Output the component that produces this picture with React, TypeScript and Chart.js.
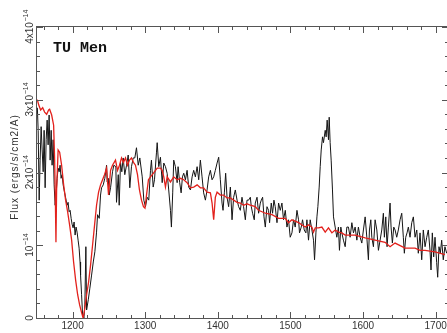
import React, { useEffect, useRef } from 'react';
import { Chart, registerables } from 'chart.js';

Chart.register(...registerables);

// Observed spectrum (wavelength in Angstrom, flux in units of 1e-14 ergs/s/cm2/A)
const obsWave = [
  1151.5, 1152.6, 1154.0, 1155.3, 1156.7, 1158.1, 1159.5, 1160.8, 1162.2, 1163.6, 1165.0, 1166.3, 1167.7, 1169.1, 1170.5, 1171.8,
  1173.2, 1174.6, 1176.0, 1177.3, 1178.7, 1180.1, 1181.5, 1182.8, 1184.2, 1185.6, 1187.0, 1188.3, 1189.7, 1191.1, 1192.5, 1193.8,
  1195.2, 1196.6, 1198.0, 1199.3, 1200.7, 1202.1, 1203.5, 1204.8, 1206.2, 1207.6, 1209.0, 1210.3, 1211.0, 1212.4, 1213.8, 1215.6,
  1216.9, 1218.3, 1219.3, 1221.6, 1223.8, 1226.2, 1228.5, 1230.7, 1233.0, 1234.4, 1236.7, 1238.5, 1239.9, 1242.2, 1244.4, 1246.8,
  1247.7, 1249.1, 1250.5, 1252.3, 1255.0, 1256.8, 1259.6, 1260.5, 1262.9, 1264.2, 1266.0, 1267.8, 1269.7, 1271.9, 1274.3, 1276.6,
  1278.8, 1281.1, 1283.5, 1285.7, 1288.0, 1290.4, 1292.6, 1295.9, 1298.1, 1300.4, 1302.7, 1304.9, 1307.3, 1308.6, 1311.0, 1312.8,
  1315.5, 1316.5, 1318.7, 1321.0, 1323.4, 1325.6, 1327.9, 1330.2, 1332.4, 1334.8, 1336.1, 1337.9, 1339.3, 1341.6, 1344.0, 1345.3,
  1347.5, 1349.5, 1351.3, 1353.1, 1355.4, 1357.7, 1359.9, 1362.3, 1364.6, 1366.8, 1369.1, 1371.5, 1373.7, 1376.0, 1378.3, 1380.5,
  1382.9, 1385.2, 1387.4, 1389.8, 1392.1, 1394.3, 1396.6, 1399.0, 1401.2, 1403.5, 1405.8, 1407.2, 1409.0, 1410.8, 1412.7, 1414.9,
  1417.3, 1419.6, 1421.8, 1424.1, 1426.5, 1428.7, 1431.0, 1433.3, 1435.5, 1437.9, 1440.2, 1442.4, 1444.8, 1446.1, 1447.9, 1450.2,
  1451.6, 1454.0, 1456.2, 1458.5, 1459.9, 1461.7, 1463.6, 1465.4, 1467.7, 1469.9, 1471.3, 1473.6, 1475.4, 1477.3, 1479.1, 1481.5,
  1483.7, 1486.0, 1488.3, 1490.5, 1492.9, 1495.2, 1497.4, 1499.7, 1502.1, 1504.3, 1506.6, 1509.0, 1511.2, 1512.5, 1514.9, 1516.7,
  1519.0, 1521.3, 1522.7, 1524.9, 1527.2, 1529.6, 1531.8, 1533.2, 1535.1, 1536.5, 1537.8, 1539.6, 1541.0, 1542.4, 1544.2, 1545.5,
  1547.9, 1549.2, 1550.6, 1552.4, 1553.4, 1554.7, 1556.1, 1557.9, 1559.3, 1561.6, 1563.9, 1566.1, 1567.5, 1569.4, 1570.8, 1573.0,
  1575.4, 1577.7, 1579.9, 1582.2, 1584.6, 1586.8, 1589.1, 1591.5, 1593.6, 1596.0, 1598.3, 1600.5, 1602.9, 1605.2, 1607.4, 1608.8,
  1610.7, 1612.1, 1614.3, 1616.6, 1619.0, 1621.2, 1623.5, 1625.8, 1628.0, 1629.4, 1631.3, 1633.1, 1634.9, 1637.2, 1638.6, 1640.4,
  1642.3, 1644.1, 1646.4, 1648.6, 1651.0, 1653.3, 1655.5, 1656.9, 1658.8, 1660.6, 1662.4, 1664.7, 1667.1, 1669.3, 1671.6, 1674.0,
  1676.1, 1678.5, 1680.8, 1683.0, 1685.4, 1687.7, 1689.9, 1692.2, 1693.6, 1695.4, 1697.3, 1699.1, 1701.4, 1702.8, 1704.6, 1706.4,
  1708.3, 1710.5, 1712.8, 1715.2,
];
const obsFlux = [
  2.89, 2.58, 1.62, 2.17, 2.63, 2.31, 2.01, 2.58, 1.79, 2.45, 2.72, 2.38, 2.79, 2.17, 2.58, 2.10,
  2.45, 1.83, 1.55, 1.69, 1.92, 2.06, 2.01, 2.10, 1.92, 1.97, 1.83, 1.76, 1.69, 1.62, 1.55, 1.59,
  1.46, 1.48, 1.37, 1.29, 1.24, 1.32, 1.14, 1.25, 1.18, 1.07, 0.96, 0.77, 0.59, 0.32, 0.04, 0.00,
  0.18, 0.98, 0.11, 0.25, 0.41, 0.59, 0.77, 0.91, 1.18, 1.42, 1.37, 1.69, 1.79, 1.83, 1.92, 2.10,
  1.87, 1.92, 1.69, 1.79, 2.01, 2.10, 2.08, 1.59, 1.97, 1.55, 2.14, 2.01, 2.20, 1.97, 2.10, 2.24,
  1.79, 2.08, 2.20, 2.20, 2.34, 2.10, 2.20, 1.94, 1.62, 1.53, 1.66, 1.62, 2.03, 2.17, 1.80, 1.90,
  2.27, 2.41, 2.08, 2.21, 1.86, 2.13, 2.08, 1.99, 1.76, 1.48, 1.25, 1.72, 2.17, 2.08, 1.86, 2.08,
  1.86, 1.72, 1.94, 1.99, 1.90, 2.03, 1.80, 1.76, 1.94, 2.03, 1.94, 2.08, 1.90, 2.17, 1.94, 1.72,
  1.62, 1.76, 1.94, 2.03, 1.90, 1.94, 2.03, 2.13, 2.21, 1.90, 1.58, 1.48, 1.72, 1.99, 1.66, 1.53,
  1.80, 1.35, 1.66, 1.76, 1.62, 1.53, 1.48, 1.66, 1.53, 1.35, 1.62, 1.62, 1.66, 1.53, 1.44, 1.35,
  1.58, 1.66, 1.44, 1.58, 1.62, 1.66, 1.39, 1.25, 1.53, 1.48, 1.31, 1.58, 1.44, 1.62, 1.53, 1.31,
  1.58, 1.48, 1.58, 1.35, 1.48, 1.25, 1.35, 1.11, 1.17, 1.35, 1.25, 1.48, 1.35, 1.17, 1.25, 1.35,
  1.21, 1.17, 1.35, 1.07, 1.35, 1.21, 1.07, 0.80, 1.17, 1.39, 1.53, 1.80, 2.08, 2.31, 2.49, 2.41,
  2.58, 2.49, 2.72, 2.45, 2.76, 2.41, 2.17, 1.76, 1.39, 1.25, 1.11, 1.25, 0.93, 1.25, 1.17, 1.07,
  0.98, 1.25, 1.25, 1.11, 1.31, 1.17, 1.25, 1.07, 1.25, 1.11, 1.03, 1.21, 1.39, 1.11, 0.80, 1.21,
  1.35, 1.11, 0.98, 1.35, 1.21, 0.93, 1.07, 1.21, 1.44, 1.11, 1.39, 0.98, 1.25, 1.58, 1.25, 1.03,
  1.25, 1.21, 1.11, 1.21, 1.35, 1.44, 1.11, 0.89, 1.11, 1.17, 1.25, 1.11, 1.31, 1.39, 1.11, 1.21,
  0.89, 1.17, 0.80, 1.21, 0.98, 1.11, 1.21, 0.93, 0.66, 1.17, 0.84, 1.11, 0.76, 0.56, 0.98, 0.89,
  1.07, 0.80, 0.98, 0.89,
];

// Model spectrum
const modelWave = [
  1151.5, 1153.3, 1156.0, 1158.8, 1161.5, 1164.3, 1167.0, 1168.4, 1171.2, 1173.9, 1175.3, 1176.4, 1177.1, 1178.0, 1180.1, 1182.2,
  1184.9, 1187.7, 1190.4, 1193.2, 1195.9, 1198.7, 1201.4, 1204.2, 1207.0, 1209.7, 1212.5, 1214.5, 1216.5, 1219.3, 1222.0, 1224.8,
  1227.5, 1230.3, 1233.0, 1235.8, 1238.5, 1241.3, 1244.0, 1246.8, 1249.5, 1252.3, 1255.0, 1259.1, 1261.9, 1264.6, 1267.4, 1270.1,
  1272.9, 1275.6, 1278.4, 1281.1, 1283.9, 1286.6, 1289.4, 1292.1, 1294.9, 1297.6, 1299.7, 1301.8, 1304.5, 1307.3, 1311.4, 1316.5,
  1321.0, 1323.4, 1325.6, 1327.9, 1330.2, 1334.8, 1339.3, 1344.0, 1348.5, 1353.1, 1357.7, 1362.3, 1366.8, 1371.5, 1376.0, 1380.5,
  1385.2, 1389.8, 1392.1, 1394.3, 1396.6, 1399.0, 1403.5, 1408.0, 1412.7, 1417.3, 1421.8, 1426.5, 1431.0, 1435.5, 1440.2, 1444.8,
  1451.6, 1456.2, 1465.4, 1474.6, 1483.7, 1492.9, 1497.4, 1502.1, 1511.2, 1520.4, 1524.9, 1529.6, 1531.8, 1534.2, 1538.7, 1543.3,
  1547.9, 1552.4, 1557.1, 1561.6, 1566.1, 1570.8, 1575.4, 1589.1, 1602.9, 1616.6, 1630.4, 1637.2, 1644.1, 1657.9, 1671.6, 1678.5,
  1685.4, 1699.1, 1712.8,
];
const modelFlux = [
  3.00, 2.93, 2.86, 2.89, 2.83, 2.80, 2.86, 2.87, 2.79, 2.65, 2.17, 1.55, 1.04, 1.76, 2.31, 2.28,
  2.10, 1.83, 1.62, 1.46, 1.28, 1.07, 0.77, 0.52, 0.32, 0.18, 0.07, 0.00, 0.11, 0.32, 0.49, 0.73,
  1.00, 1.28, 1.55, 1.73, 1.83, 1.90, 1.97, 2.06, 1.69, 2.03, 2.10, 2.17, 2.03, 2.10, 2.20, 2.14,
  2.20, 2.10, 2.17, 2.20, 2.14, 2.10, 1.97, 1.76, 1.62, 1.53, 1.51, 1.69, 1.90, 1.94, 1.99, 2.06,
  2.06, 2.03, 1.94, 1.80, 1.94, 1.87, 1.94, 1.90, 1.92, 1.90, 1.86, 1.79, 1.80, 1.83, 1.79, 1.79,
  1.73, 1.72, 1.58, 1.35, 1.66, 1.73, 1.69, 1.69, 1.65, 1.65, 1.62, 1.59, 1.58, 1.55, 1.57, 1.55,
  1.53, 1.48, 1.44, 1.42, 1.37, 1.37, 1.31, 1.35, 1.31, 1.25, 1.28, 1.25, 1.18, 1.24, 1.24, 1.25,
  1.18, 1.24, 1.17, 1.21, 1.18, 1.17, 1.14, 1.14, 1.10, 1.07, 1.04, 0.98, 1.03, 0.96, 0.96, 0.93,
  0.93, 0.91, 0.87,
];

const xMajorTicks = [1200, 1300, 1400, 1500, 1600, 1700];
const yMajorTicks = [0, 1, 2, 3, 4];
const yTickBase = ['0', '10', '2x10', '3x10', '4x10'];
const yTickExp = ['', '\u221214', '\u221214', '\u221214', '\u221214'];
const chartTitle = 'TU Men';
const yAxisTitle = 'Flux (ergs/s/cm2/A)';

export default function App() {
  const ref = useRef<HTMLCanvasElement>(null);

  useEffect(() => {
    document.body.style.margin = '0';
    const canvas = ref.current;
    if (!canvas) return;

    const framePlugin = {
      id: 'frameDecor',
      afterDraw(chart: any) {
        const { ctx, chartArea: a } = chart;
        const xs = chart.scales.x;
        const ys = chart.scales.y;
        ctx.save();
        ctx.strokeStyle = '#555';
        ctx.lineWidth = 1;
        ctx.strokeRect(a.left - 0.5, a.top - 0.5, a.right - a.left + 1, a.bottom - a.top + 1);

        ctx.beginPath();
        for (let w = 1160; w <= 1716; w += 20) {
          const major = w % 100 === 0;
          const len = major ? 6 : 3;
          const px = Math.round(xs.getPixelForValue(w)) + 0.5;
          ctx.moveTo(px, a.bottom);
          ctx.lineTo(px, a.bottom - len);
          ctx.moveTo(px, a.top);
          ctx.lineTo(px, a.top + len);
        }
        for (let i = 0; i <= 20; i++) {
          const major = i % 5 === 0;
          const len = major ? 6 : 3;
          const py = Math.round(ys.getPixelForValue(i * 0.2)) + 0.5;
          ctx.moveTo(a.left, py);
          ctx.lineTo(a.left + len, py);
          ctx.moveTo(a.right, py);
          ctx.lineTo(a.right - len, py);
        }
        ctx.stroke();

        // rotated y tick labels with superscript exponents
        ctx.fillStyle = '#333';
        ctx.textBaseline = 'alphabetic';
        ctx.textAlign = 'left';
        yMajorTicks.forEach((v, i) => {
          const py = ys.getPixelForValue(v);
          ctx.save();
          ctx.translate(33, py);
          ctx.rotate(-Math.PI / 2);
          ctx.font = '10px "Liberation Sans", Arial, sans-serif';
          const wb = ctx.measureText(yTickBase[i]).width;
          ctx.font = '7px "Liberation Sans", Arial, sans-serif';
          const we = yTickExp[i] ? ctx.measureText(yTickExp[i]).width : 0;
          const start = -(wb + we) / 2;
          ctx.font = '10px "Liberation Sans", Arial, sans-serif';
          ctx.fillText(yTickBase[i], start, 0);
          if (yTickExp[i]) {
            ctx.font = '7px "Liberation Sans", Arial, sans-serif';
            ctx.fillText(yTickExp[i], start + wb + 0.5, -5);
          }
          ctx.restore();
        });

        // y axis title
        ctx.save();
        ctx.translate(18, 167);
        ctx.rotate(-Math.PI / 2);
        ctx.font = '10px "Liberation Sans", Arial, sans-serif';
        (ctx as any).letterSpacing = '1px';
        ctx.textAlign = 'center';
        ctx.fillStyle = '#333';
        ctx.fillText(yAxisTitle, 0, 0);
        ctx.restore();

        // title inside the plot
        ctx.font = 'bold 15px "Liberation Mono", "DejaVu Sans Mono", monospace';
        ctx.fillStyle = '#111';
        ctx.textAlign = 'left';
        ctx.fillText(chartTitle, 53, 51.5);
        ctx.restore();
      },
    };

    const chart = new Chart(canvas, {
      type: 'line',
      data: {
        datasets: [
          {
            label: 'Model',
            data: modelWave.map((x, i) => ({ x, y: modelFlux[i] })),
            borderColor: '#e3211c',
            borderWidth: 1.3,
            pointRadius: 0,
            tension: 0,
          },
          {
            label: 'TU Men',
            data: obsWave.map((x, i) => ({ x, y: obsFlux[i] })),
            borderColor: '#151515',
            borderWidth: 1,
            pointRadius: 0,
            tension: 0,
          },
        ],
      },
      options: {
        responsive: false,
        animation: false,
        devicePixelRatio: 1,
        layout: { padding: { left: 0, top: 27, right: 2, bottom: 0 } },
        plugins: { legend: { display: false }, tooltip: { enabled: false }, title: { display: false } },
        scales: {
          x: {
            type: 'linear',
            min: 1151,
            max: 1717,
            grid: { display: false, drawTicks: false },
            border: { display: false },
            afterBuildTicks: (s: any) => {
              s.ticks = xMajorTicks.map((v) => ({ value: v }));
            },
            afterFit: (s: any) => {
              s.height = 15;
            },
            ticks: {
              font: { family: '"Liberation Sans", Arial, sans-serif', size: 10 },
              color: '#333',
              padding: 2,
              maxRotation: 0,
              autoSkip: false,
              callback: (v: any) => String(v),
            },
          },
          y: {
            type: 'linear',
            min: 0,
            max: 4,
            grid: { display: false, drawTicks: false },
            border: { display: false },
            ticks: { display: false },
            afterFit: (s: any) => {
              s.width = 37;
            },
          },
        },
      },
      plugins: [framePlugin],
    });
    return () => chart.destroy();
  }, []);

  return (
    <div style={{ position: 'fixed', left: 0, top: 0, width: 447, height: 333, overflow: 'hidden', background: '#fff' }}>
      <canvas ref={ref} width={450} height={333} style={{ display: 'block' }} />
    </div>
  );
}
